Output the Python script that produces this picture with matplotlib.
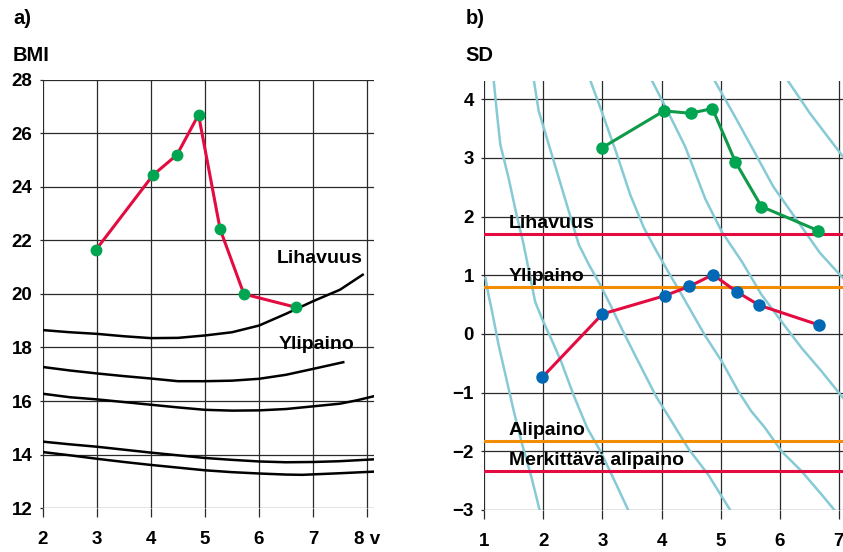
"""
BMI (a) and SD score (b) growth charts with reference curves.
"""

import matplotlib
matplotlib.use("Agg")
import matplotlib.pyplot as plt

plt.rcParams["font.family"] = ["Liberation Sans", "DejaVu Sans"]
plt.rcParams["font.weight"] = "bold"


# ── Data: panel a) BMI ────────────────────────────────────────────────────────

bmi_age = [2.98, 4.04, 4.48, 4.88, 5.28, 5.72, 6.69]
bmi_val = [21.65, 24.45, 25.2, 26.7, 22.42, 20.0, 19.5]

# reference curves (age, BMI)
ref_lihavuus_x = [2, 2.5, 3, 3.5, 4, 4.5, 5, 5.5, 6, 6.5, 7, 7.5, 7.92]
ref_lihavuus_y = [18.65, 18.57, 18.51, 18.42, 18.35, 18.36, 18.45, 18.57, 18.82,
                  19.26, 19.73, 20.16, 20.72]
ref_ylipaino_x = [2, 2.5, 3, 3.5, 4, 4.5, 5, 5.5, 6, 6.5, 7, 7.56]
ref_ylipaino_y = [17.27, 17.14, 17.03, 16.93, 16.84, 16.74, 16.74, 16.76, 16.83,
                  16.98, 17.2, 17.45]
ref_mid_x = [2, 2.5, 3, 3.5, 4, 4.5, 5, 5.5, 6, 6.5, 7, 7.5, 7.8, 8.13]
ref_mid_y = [16.27, 16.14, 16.06, 15.96, 15.86, 15.76, 15.67, 15.64, 15.65, 15.70,
             15.80, 15.90, 16.02, 16.18]
ref_low1_x = [2, 2.5, 3, 3.5, 4, 4.5, 5, 5.5, 6, 6.5, 7, 7.5, 8.13]
ref_low1_y = [14.48, 14.38, 14.29, 14.18, 14.07, 13.97, 13.87, 13.80, 13.74, 13.71,
              13.72, 13.75, 13.82]
ref_low2_x = [2, 2.5, 3, 3.5, 4, 4.5, 5, 5.5, 6, 6.5, 6.8, 7.5, 8.13]
ref_low2_y = [14.09, 13.97, 13.84, 13.72, 13.61, 13.51, 13.41, 13.34, 13.29, 13.25,
              13.24, 13.30, 13.36]

bmi_xticks = [2, 3, 4, 5, 6, 7, 8]
bmi_xlabels = ["2", "3", "4", "5", "6", "7", "8 v"]
bmi_yticks = [12, 14, 16, 18, 20, 22, 24, 26, 28]


# ── Data: panel b) SD score ───────────────────────────────────────────────────

sd_green_x = [2.99, 4.04, 4.49, 4.86, 5.25, 5.69, 6.65]
sd_green_y = [3.17, 3.80, 3.76, 3.84, 2.93, 2.17, 1.76]
sd_blue_x = [1.98, 3.0, 4.05, 4.47, 4.87, 5.27, 5.65, 6.67]
sd_blue_y = [-0.74, 0.34, 0.65, 0.81, 1.01, 0.72, 0.49, 0.15]

limit_names = ["Lihavuus", "Ylipaino", "Alipaino", "Merkittävä alipaino"]
limit_values = [1.70, 0.80, -1.82, -2.33]
limit_colors = ["#E30B40", "#F28C00", "#F28C00", "#E30B40"]

# light blue iso-curves
iso1_x = [1.02, 1.07, 1.13, 1.24, 1.37, 1.50, 1.64, 1.80, 1.96]
iso1_y = [0.95, 0.67, 0.39, -0.18, -0.75, -1.32, -1.88, -2.45, -3.10]
iso2_x = [1.16, 1.21, 1.27, 1.41, 1.55, 1.66, 1.77, 1.86, 1.98, 2.14, 2.30, 2.51,
          2.74, 2.96, 3.18, 3.49]
iso2_y = [4.31, 3.80, 3.23, 2.66, 2.01, 1.55, 1.00, 0.55, 0.25, -0.10, -0.47, -1.04,
          -1.60, -1.99, -2.45, -3.12]
iso3_x = [1.84, 1.92, 2.09, 2.26, 2.43, 2.60, 2.77, 2.96, 3.13, 3.33, 3.60, 3.91,
          4.17, 4.45, 4.79, 5.21]
iso3_y = [4.31, 3.80, 3.23, 2.66, 2.09, 1.52, 1.18, 0.84, 0.50, 0.08, -0.46, -1.07,
          -1.49, -1.95, -2.40, -3.08]
iso4_x = [2.79, 2.99, 3.23, 3.47, 3.70, 3.92, 4.14, 4.34, 4.73, 5.02, 5.30, 5.52,
          5.75, 6.03, 6.37, 6.71, 6.99]
iso4_y = [4.33, 3.78, 3.10, 2.37, 1.81, 1.40, 1.01, 0.67, -0.02, -0.47, -0.98, -1.32,
          -1.60, -2.00, -2.34, -2.74, -3.08]
iso5_x = [3.84, 4.12, 4.40, 4.74, 5.02, 5.36, 5.69, 6.03, 6.37, 6.71, 7.07]
iso5_y = [4.31, 3.76, 3.19, 2.30, 1.74, 1.23, 0.67, 0.21, -0.24, -0.64, -1.09]
iso6_x = [4.90, 5.21, 5.55, 5.89, 6.29, 6.68, 7.07]
iso6_y = [4.31, 3.76, 3.14, 2.51, 1.94, 1.38, 0.95]
iso7_x = [6.14, 6.51, 6.85, 7.07]
iso7_y = [4.31, 3.76, 3.31, 3.02]

sd_xticks = [1, 2, 3, 4, 5, 6, 7]
sd_yticks = [-3, -2, -1, 0, 1, 2, 3, 4]


# ── Colours ───────────────────────────────────────────────────────────────────

RED = "#E30B40"
GREEN_LINE = "#0E9A48"
GREEN_DOT = "#00A551"
BLUE_DOT = "#0068B4"
ISO_COL = "#86CAD6"
GRID_COL = "#2a2a2a"


def style_axes(ax):
    for sp in ax.spines.values():
        sp.set_visible(False)
    ax.grid(True, color=GRID_COL, linewidth=0.9)
    ax.set_axisbelow(True)
    ax.tick_params(axis="x", direction="out", length=6.5, width=0.9,
                   color=GRID_COL, pad=10, labelsize=13.5)
    ax.tick_params(axis="y", direction="out", length=2.5, width=0.9,
                   color=GRID_COL, pad=5, labelsize=13.5)


fig = plt.figure(figsize=(8.43, 5.52), dpi=100)


# ── Panel a) ──────────────────────────────────────────────────────────────────

axL = fig.add_axes([0.051, 0.0797, 0.3927, 0.7754])
style_axes(axL)
axL.set_xlim(2, 8.13)
axL.set_ylim(12, 28)
axL.set_xticks(bmi_xticks)
axL.set_xticklabels(bmi_xlabels)
axL.set_yticks(bmi_yticks)

for xs, ys in [(ref_lihavuus_x, ref_lihavuus_y), (ref_ylipaino_x, ref_ylipaino_y),
               (ref_mid_x, ref_mid_y), (ref_low1_x, ref_low1_y),
               (ref_low2_x, ref_low2_y)]:
    axL.plot(xs, ys, color="black", linewidth=1.8, zorder=3)

axL.plot(bmi_age, bmi_val, color=RED, linewidth=2.2, zorder=4)
axL.plot(bmi_age, bmi_val, "o", color=GREEN_DOT, markersize=7.5, zorder=5)

axL.text(7.91, 21.17, "Lihavuus", ha="right", va="baseline", fontsize=14,
         fontweight="bold", zorder=6)
axL.text(7.76, 17.93, "Ylipaino", ha="right", va="baseline", fontsize=14,
         fontweight="bold", zorder=6)


# ── Panel b) ──────────────────────────────────────────────────────────────────

axR = fig.add_axes([0.5745, 0.0761, 0.4255, 0.7772])
style_axes(axR)
axR.set_xlim(1, 7.07)
axR.set_ylim(-3, 4.31)
axR.set_xticks(sd_xticks)
axR.set_yticks(sd_yticks)

for xs, ys in [(iso1_x, iso1_y), (iso2_x, iso2_y), (iso3_x, iso3_y),
               (iso4_x, iso4_y), (iso5_x, iso5_y), (iso6_x, iso6_y),
               (iso7_x, iso7_y)]:
    axR.plot(xs, ys, color=ISO_COL, linewidth=1.8, zorder=2)

for name, val, col in zip(limit_names, limit_values, limit_colors):
    axR.axhline(val, color=col, linewidth=2.2, zorder=3)
    axR.text(1.41, val + 0.1, name, ha="left", va="baseline", fontsize=14,
             fontweight="bold", zorder=6)

axR.plot(sd_green_x, sd_green_y, color=GREEN_LINE, linewidth=2.2, zorder=4)
axR.plot(sd_green_x, sd_green_y, "o", color=GREEN_DOT, markersize=8, zorder=5)
axR.plot(sd_blue_x, sd_blue_y, color=RED, linewidth=2.2, zorder=4)
axR.plot(sd_blue_x, sd_blue_y, "o", color=BLUE_DOT, markersize=8, zorder=5)


# ── Panel titles ──────────────────────────────────────────────────────────────

for x, lbl in [(0.0154, "a)"), (0.5524, "b)")]:
    fig.text(x, 0.967, lbl, ha="left", va="center", fontsize=14.5, fontweight="bold")
fig.text(0.0154, 0.8986, "BMI", ha="left", va="center", fontsize=14.5, fontweight="bold")
fig.text(0.5524, 0.8986, "SD", ha="left", va="center", fontsize=14.5, fontweight="bold")

fig.savefig("out.png", dpi=100)
plt.close()
